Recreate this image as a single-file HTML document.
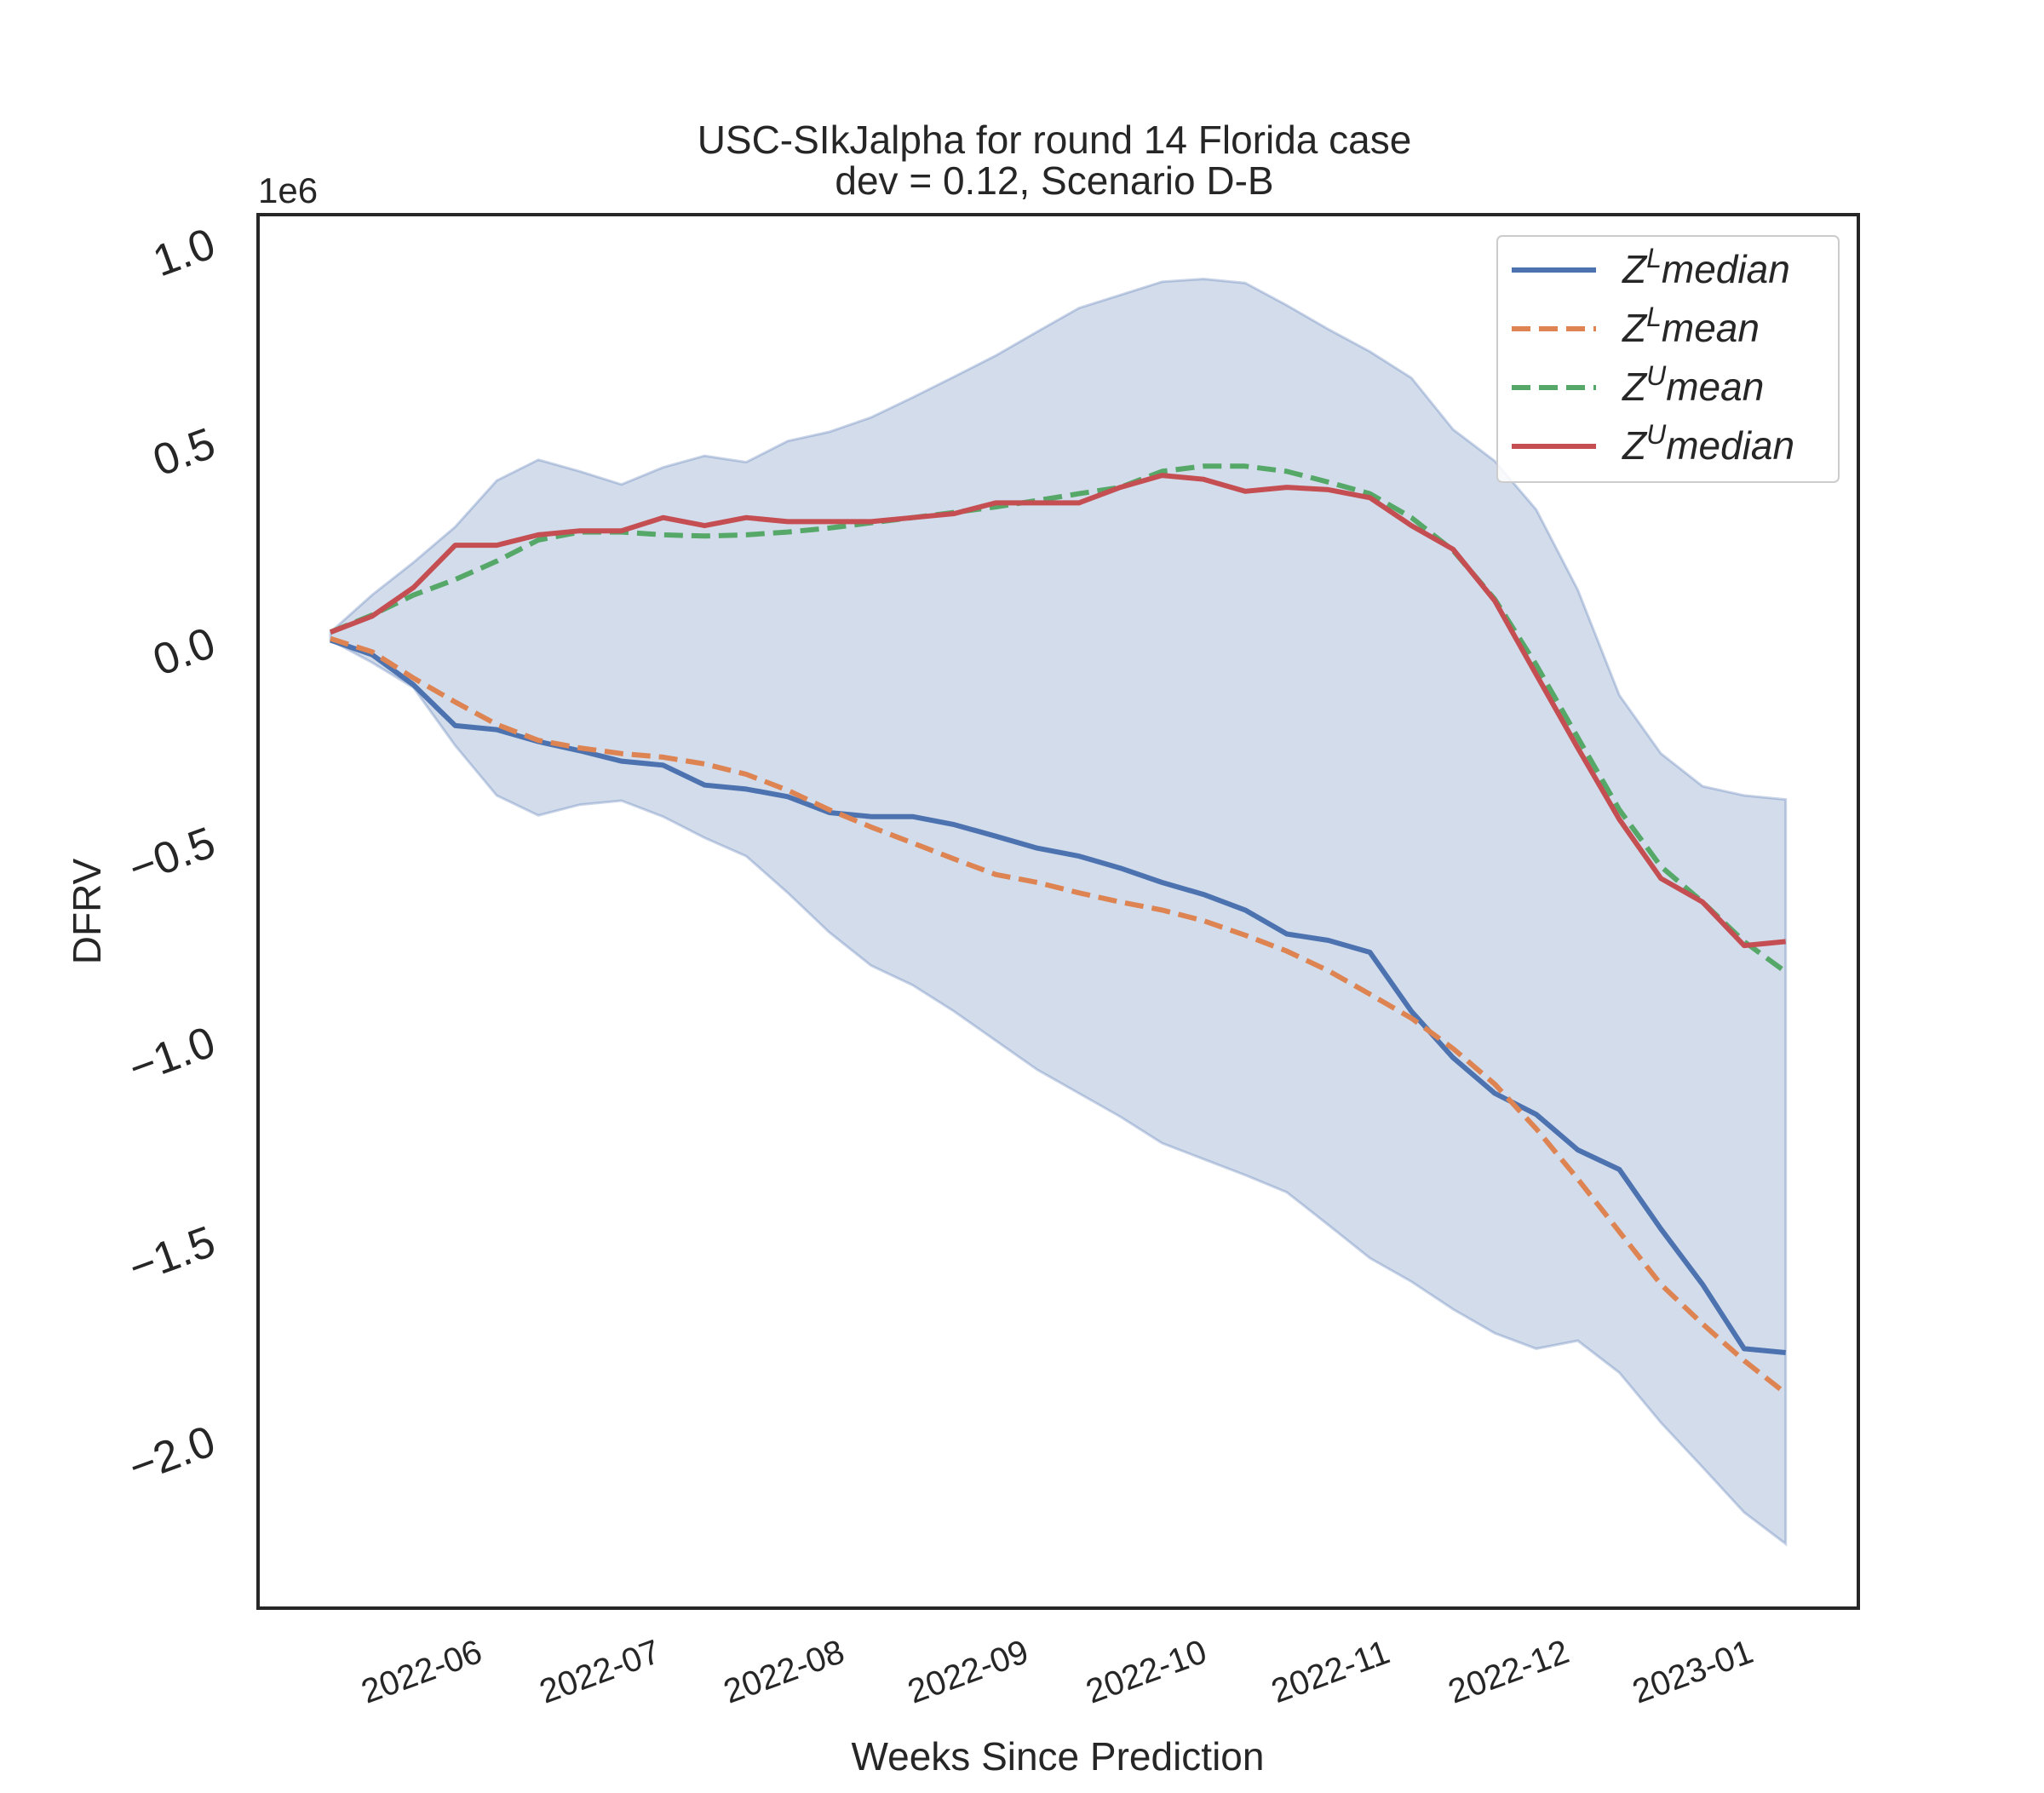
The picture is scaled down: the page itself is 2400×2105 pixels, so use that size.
<!DOCTYPE html>
<html><head><meta charset="utf-8"><style>
body{margin:0;background:#fff}
svg text{font-family:"Liberation Sans",sans-serif;fill:#262626}
</style></head><body>
<svg id="chart" width="2400" height="2100" viewBox="0 0 2400 2100" xmlns="http://www.w3.org/2000/svg">
<rect width="2400" height="2100" fill="#fff"/>
<g id="plot"></g>
<text x="1238" y="180" font-size="46" text-anchor="middle">USC-SIkJalpha for round 14 Florida case</text>
<text x="1238" y="228" font-size="46" text-anchor="middle">dev = 0.12, Scenario D-B</text>
<text x="303" y="238" font-size="42">1e6</text>
<text x="1242" y="2078" font-size="46" text-anchor="middle">Weeks Since Prediction</text>
<text transform="translate(118,1070) rotate(-90)" font-size="46" text-anchor="middle">DFRV</text>
<rect x="303" y="252" width="1879" height="1636" fill="none" stroke="#262626" stroke-width="4"/>
<g>
<rect x="1758" y="277" width="401" height="289" rx="6" fill="#fff" fill-opacity="0.85" stroke="#ccc" stroke-width="2"/>
<g><line x1="1775" y1="317" x2="1874" y2="317" stroke="#4c72b0" stroke-width="6"/><text x="1905" y="332" font-size="46" font-style="italic">Z<tspan baseline-shift="super" font-size="32">L</tspan>median</text></g>
<g><line x1="1775" y1="386" x2="1874" y2="386" stroke="#dd8452" stroke-width="6" stroke-dasharray="22,10"/><text x="1905" y="401" font-size="46" font-style="italic">Z<tspan baseline-shift="super" font-size="32">L</tspan>mean</text></g>
<g><line x1="1775" y1="455" x2="1874" y2="455" stroke="#55a868" stroke-width="6" stroke-dasharray="22,10"/><text x="1905" y="470" font-size="46" font-style="italic">Z<tspan baseline-shift="super" font-size="32">U</tspan>mean</text></g>
<g><line x1="1775" y1="524" x2="1874" y2="524" stroke="#c44e52" stroke-width="6"/><text x="1905" y="539" font-size="46" font-style="italic">Z<tspan baseline-shift="super" font-size="32">U</tspan>median</text></g>
</g>
</svg>
<script>
const zuMedian=[.023,.063,.135,.241,.241,.267,.277,.277,.310,.290,.310,.300,.300,.300,.310,.320,.347,.347,.347,.386,.416,.406,.376,.386,.380,.360,.290,.231,.102,-.083,-.267,-.446,-.594,-.653,-.762,-.752];
const zuMean=[.023,.066,.116,.155,.201,.254,.274,.274,.267,.264,.267,.274,.284,.297,.310,.323,.337,.353,.370,.386,.426,.439,.439,.426,.399,.370,.310,.228,.106,-.059,-.241,-.422,-.564,-.653,-.752,-.828];
const zlMedian=[.003,-.033,-.109,-.211,-.221,-.251,-.274,-.300,-.310,-.360,-.370,-.389,-.429,-.439,-.439,-.459,-.488,-.518,-.538,-.568,-.604,-.634,-.673,-.733,-.749,-.779,-.927,-1.043,-1.132,-1.185,-1.274,-1.323,-1.472,-1.611,-1.772,-1.782];
const zlMean=[.007,-.026,-.092,-.152,-.208,-.248,-.267,-.281,-.290,-.307,-.333,-.373,-.422,-.465,-.505,-.545,-.584,-.604,-.630,-.653,-.673,-.700,-.736,-.776,-.825,-.884,-.944,-1.020,-1.109,-1.221,-1.347,-1.479,-1.611,-1.710,-1.802,-1.884];
const bandUpper=[.023,.116,.198,.287,.403,.455,.426,.393,.436,.465,.449,.502,.525,.561,.611,.663,.716,.776,.835,.868,.901,.908,.898,.842,.782,.726,.660,.531,.452,.330,.129,-.135,-.281,-.363,-.386,-.396];
const bandLower=[.003,-.053,-.116,-.261,-.386,-.436,-.409,-.399,-.439,-.492,-.538,-.630,-.729,-.812,-.861,-.927,-1.000,-1.073,-1.132,-1.191,-1.257,-1.297,-1.337,-1.380,-1.462,-1.545,-1.604,-1.673,-1.733,-1.772,-1.752,-1.832,-1.957,-2.069,-2.182,-2.261];
const yTicks=[1.0,0.5,0.0,-0.5,-1.0,-1.5,-2.0];
const yTickLabels=["1.0","0.5","0.0","\u22120.5","\u22121.0","\u22121.5","\u22122.0"];
const xTickLabels=["2022-06","2022-07","2022-08","2022-09","2022-10","2022-11","2022-12","2023-01"];
const startDate="2022-05-16";

const NS="http://www.w3.org/2000/svg";
const plot=document.getElementById('plot');
const chart=document.getElementById('chart');
const t0=Date.parse(startDate+"T00:00:00Z");
function xDay(d){return 388+d*48.82/7;}
function xIdx(i){return xDay(i*7);}
function yScale(v){return 753-v*468.6;}
function pts(arr){return arr.map((v,i)=>xIdx(i).toFixed(1)+","+yScale(v).toFixed(1));}
function mk(tag,attrs,parent){const e=document.createElementNS(NS,tag);for(const k in attrs)e.setAttribute(k,attrs[k]);(parent||plot).appendChild(e);return e;}

const band=mk('polygon',{points:pts(bandUpper).concat(pts(bandLower).reverse()).join(' '),fill:'#4c72b0','fill-opacity':0.25,stroke:'#4c72b0','stroke-opacity':0.3,'stroke-width':3});



const series=[[zlMedian,'#4c72b0',null,'zl-median-line'],[zlMean,'#dd8452','22,10','zl-mean-line'],[zuMean,'#55a868','22,10','zu-mean-line'],[zuMedian,'#c44e52',null,'zu-median-line']];
series.forEach(s=>{
  const a={points:pts(s[0]).join(' '),fill:'none',stroke:s[1],'stroke-width':6,'stroke-linejoin':'round'};
  if(s[2])a['stroke-dasharray']=s[2];
  const l=mk('polyline',a);
  
  
});

yTicks.forEach((v,i)=>{
  const y=yScale(v);
  const t=mk('text',{x:0,y:0,'font-size':52,'text-anchor':'end',transform:`translate(256,${y+16}) rotate(-20)`},chart);
  t.textContent=yTickLabels[i];
  
  
});
xTickLabels.forEach(lbl=>{
  const d=(Date.parse(lbl+"-01T00:00:00Z")-t0)/86400000;
  const x=xDay(d);
  const t=mk('text',{x:0,y:0,'font-size':40,'text-anchor':'middle',transform:`translate(${x},1975) rotate(-20)`},chart);
  t.textContent=lbl;
  
  
});
</script>
</body></html>
